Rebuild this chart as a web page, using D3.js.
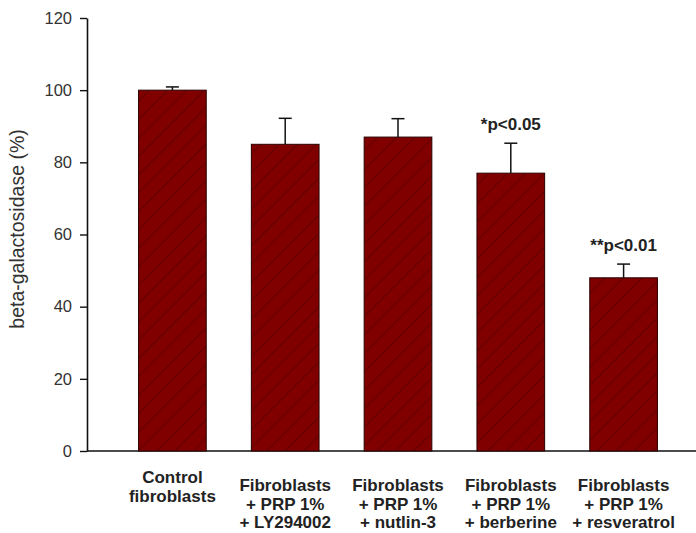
<!DOCTYPE html>
<html>
    <head>
        <script src="https://d3js.org/d3.v7.min.js"></script>
        <style>
            body { margin: 0; background: #fff; }
            svg { display: block; }
        </style>
    </head>
    <body>
        <svg width="696" height="533"></svg>

        <script>
            "use strict";

            // data
            var groups = ["control", "ly", "nutlin", "berberine", "resveratrol"];
            var groupLabels = [
                ["Control", "fibroblasts"],
                ["Fibroblasts", "+ PRP 1%", "+ LY294002"],
                ["Fibroblasts", "+ PRP 1%", "+ nutlin-3"],
                ["Fibroblasts", "+ PRP 1%", "+ berberine"],
                ["Fibroblasts", "+ PRP 1%", "+ resveratrol"]
            ];
            var means = [100, 85, 87, 77, 48];
            var errors = [0.9, 7.2, 5.1, 8.3, 3.8];
            var pLabels = ["", "", "", "*p<0.05", "**p<0.01"];
            var yTicks = [0, 20, 40, 60, 80, 100, 120];

            var svg = d3.select("svg");

            var x = d3.scaleBand()
                .domain(groups)
                .range([116, 680])
                .paddingInner(0.4)
                .paddingOuter(0.2);

            var y = d3.scaleLinear()
                .domain([0, 120])
                .range([451, 18]);

            // hatch pattern for the bars
            var defs = svg.append("defs");
            var pat = defs.append("pattern")
                .attr("id", "hatch")
                .attr("patternUnits", "userSpaceOnUse")
                .attr("width", 13)
                .attr("height", 13)
                .attr("patternTransform", "rotate(45)");
            pat.append("rect")
                .attr("width", 13).attr("height", 13)
                .attr("fill", "#800000");
            pat.append("line")
                .attr("x1", 0).attr("y1", 0)
                .attr("x2", 0).attr("y2", 13)
                .attr("stroke", "#5a0000")
                .attr("stroke-width", 1.6);

            // y axis
            var yAxis = svg.append("g")
                .attr("transform", "translate(87,0)")
                .call(d3.axisLeft(y).tickValues(yTicks).tickSize(7).tickPadding(8).tickSizeOuter(0));
            yAxis.select(".domain").attr("stroke", "#111").attr("stroke-width", 1.6);
            yAxis.selectAll(".tick line").attr("stroke", "#111").attr("stroke-width", 1.4);
            yAxis.selectAll(".tick text")
                .attr("font-family", "Liberation Sans, Arial, sans-serif")
                .attr("font-size", 16.5)
                .attr("fill", "#333");

            // x axis line
            svg.append("line")
                .attr("x1", 87).attr("x2", 696)
                .attr("y1", y(0)).attr("y2", y(0))
                .attr("stroke", "#111")
                .attr("stroke-width", 1.6);

            svg.append("text")
                .attr("transform", "translate(24," + 229 + ") rotate(-90)")
                .attr("text-anchor", "middle")
                .attr("font-family", "Liberation Sans, Arial, sans-serif")
                .attr("font-size", 19.5)
                .attr("fill", "#333")
                .text("beta-galactosidase (%)");

            var bars = svg.append("g").selectAll("g")
                .data(groups)
                .enter().append("g");

            bars.append("rect")
                .attr("x", d => x(d))
                .attr("width", x.bandwidth())
                .attr("y", (d, i) => y(means[i]))
                .attr("height", (d, i) => y(0) - y(means[i]))
                .attr("fill", "url(#hatch)")
                .attr("stroke", "#2a0000")
                .attr("stroke-width", 1);

            // error bars (upper only)
            bars.append("line")
                .attr("x1", d => x(d) + x.bandwidth() / 2)
                .attr("x2", d => x(d) + x.bandwidth() / 2)
                .attr("y1", (d, i) => y(means[i]))
                .attr("y2", (d, i) => y(means[i] + errors[i]))
                .attr("stroke", "#111")
                .attr("stroke-width", 1.5);
            bars.append("line")
                .attr("x1", d => x(d) + x.bandwidth() / 2 - 6.5)
                .attr("x2", d => x(d) + x.bandwidth() / 2 + 6.5)
                .attr("y1", (d, i) => y(means[i] + errors[i]))
                .attr("y2", (d, i) => y(means[i] + errors[i]))
                .attr("stroke", "#111")
                .attr("stroke-width", 1.5);

            // significance labels
            bars.append("text")
                .attr("x", d => x(d) + x.bandwidth() / 2)
                .attr("y", (d, i) => y(means[i] + errors[i]) - 13)
                .attr("text-anchor", "middle")
                .attr("font-family", "Liberation Sans, Arial, sans-serif")
                .attr("font-weight", "bold")
                .attr("font-size", 17)
                .attr("fill", "#222")
                .text((d, i) => pLabels[i]);

            // category labels
            bars.append("text")
                .attr("text-anchor", "middle")
                .attr("font-family", "Liberation Sans, Arial, sans-serif")
                .attr("font-weight", "bold")
                .attr("font-size", 17)
                .attr("fill", "#222")
                .each(function(d, i) {
                    var lines = groupLabels[i];
                    var top = lines.length === 2 ? 483 : 491;
                    d3.select(this).selectAll("tspan")
                        .data(lines)
                        .enter().append("tspan")
                        .attr("x", x(d) + x.bandwidth() / 2)
                        .attr("y", (t, j) => top + j * 18.5)
                        .text(t => t);
                });
        </script>
    </body>
</html>
